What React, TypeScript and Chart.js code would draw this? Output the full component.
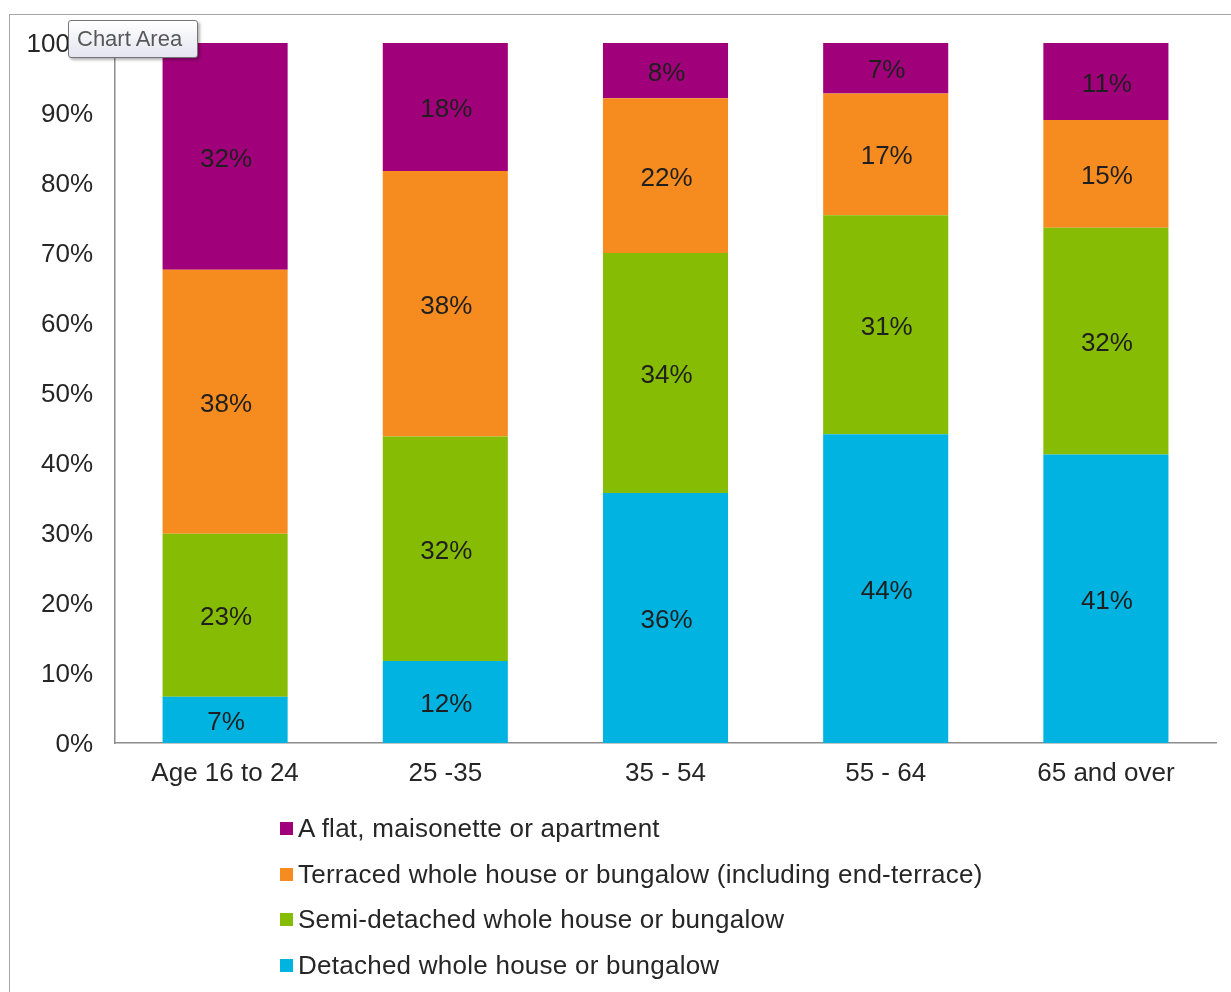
import React, { useEffect, useRef } from "react";
import { Chart, registerables } from "chart.js";

Chart.register(...registerables);

const categories = ["Age 16 to 24", "25 -35", "35 - 54", "55 - 64", "65 and over"];
const detached = [6.6, 11.7, 35.7, 44.1, 41.2];
const semiDetached = [23.3, 32.1, 34.3, 31.3, 32.4];
const terraced = [37.7, 37.9, 22.1, 17.4, 15.4];
const flat = [32.4, 18.3, 7.9, 7.2, 11.0];

const seriesNames = [
  "Detached whole house or bungalow",
  "Semi-detached whole house or bungalow",
  "Terraced whole house or bungalow (including end-terrace)",
  "A flat, maisonette or apartment",
];
const seriesColors = ["#00B3E0", "#86BC03", "#F68B1F", "#A1007B"];
const yTicks = [0, 10, 20, 30, 40, 50, 60, 70, 80, 90, 100];

const FONT = "'Liberation Sans', Arial, sans-serif";
const TEXT = "#262626";

const valueLabels = {
  id: "valueLabels",
  afterDatasetsDraw(chart: any) {
    const ctx = chart.ctx;
    ctx.save();
    ctx.font = `26px ${FONT}`;
    ctx.fillStyle = "#1f1f1f";
    ctx.textAlign = "center";
    ctx.textBaseline = "middle";
    chart.data.datasets.forEach((ds: any, i: number) => {
      const meta = chart.getDatasetMeta(i);
      meta.data.forEach((bar: any, j: number) => {
        const p = bar.getProps(["x", "y", "base"], true);
        ctx.fillText(Math.round(ds.data[j]) + "%", p.x + 1, (p.y + p.base) / 2 + 3);
      });
    });
    ctx.restore();
  },
};

export default function App() {
  const ref = useRef<HTMLCanvasElement | null>(null);

  useEffect(() => {
    if (!ref.current) return;
    const values = [detached, semiDetached, terraced, flat];
    const chart = new Chart(ref.current, {
      type: "bar",
      data: {
        labels: categories,
        datasets: values.map((v, i) => ({
          label: seriesNames[i],
          data: v,
          backgroundColor: seriesColors[i],
          borderWidth: 0,
          categoryPercentage: 1,
          barPercentage: 0.568,
        })),
      },
      options: {
        responsive: false,
        animation: false,
        layout: { padding: { left: 0, right: 15, top: 43, bottom: 189 } },
        plugins: {
          legend: { display: false },
          tooltip: { enabled: false },
        },
        scales: {
          x: {
            stacked: true,
            grid: { display: false, drawTicks: false },
            border: { display: true, color: "#8C8C8C", width: 1.5 },
            ticks: { color: TEXT, font: { family: FONT, size: 26 }, padding: 15, maxRotation: 0 },
            afterFit: (s: any) => {
              s.height = 60;
            },
          },
          y: {
            stacked: true,
            min: 0,
            max: 100,
            grid: { display: false, drawTicks: false },
            border: { display: true, color: "#8C8C8C", width: 1.5 },
            afterBuildTicks: (s: any) => {
              s.ticks = yTicks.map((v) => ({ value: v }));
            },
            ticks: {
              color: TEXT,
              font: { family: FONT, size: 26 },
              padding: 22,
              labelOffset: 2,
              callback: (v: any) => v + "%",
            },
            afterFit: (s: any) => {
              s.width = 115;
            },
          },
        },
      },
      plugins: [valueLabels],
    });
    return () => chart.destroy();
  }, []);

  const legendOrder = [3, 2, 1, 0];

  return (
    <div
      style={{
        position: "absolute",
        left: 0,
        top: 0,
        width: 1231,
        height: 992,
        overflow: "hidden",
        background: "#fff",
      }}
    >
      <div
        style={{
          position: "absolute",
          left: 9,
          top: 14,
          width: 1400,
          height: 1200,
          border: "1.5px solid #A6A6A6",
        }}
      />
      <canvas ref={ref} width={1231} height={992} style={{ position: "absolute", left: 0, top: 0 }} />
      <div style={{ position: "absolute", left: 280, top: 806 }}>
        {legendOrder.map((i) => (
          <div
            key={i}
            style={{
              display: "flex",
              alignItems: "center",
              height: 45.5,
              fontFamily: FONT,
              fontSize: 26,
              letterSpacing: 0.25,
              color: TEXT,
              whiteSpace: "nowrap",
            }}
          >
            <span
              style={{
                display: "inline-block",
                width: 13,
                height: 13,
                background: seriesColors[i],
                marginRight: 5,
              }}
            />
            <span>{seriesNames[i]}</span>
          </div>
        ))}
      </div>
      <div
        style={{
          position: "absolute",
          left: 68,
          top: 20,
          width: 130,
          height: 38,
          boxSizing: "border-box",
          border: "1px solid #767676",
          borderRadius: 3,
          background: "linear-gradient(#ffffff, #E4E5F0)",
          boxShadow: "2px 2px 3px rgba(0,0,0,0.3)",
          fontFamily: FONT,
          fontSize: 22,
          color: "#575757",
          display: "flex",
          alignItems: "center",
          paddingLeft: 8,
          whiteSpace: "nowrap",
        }}
      >
        Chart Area
      </div>
    </div>
  );
}
